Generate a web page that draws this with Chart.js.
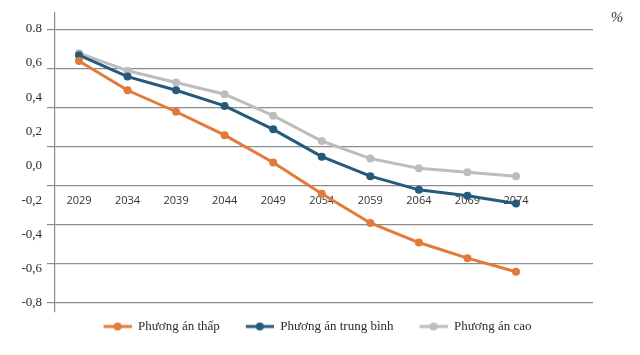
<!DOCTYPE html>
<html>
<head>
<meta charset="utf-8">
<script src="https://cdn.jsdelivr.net/npm/chart.js@4.4.1/dist/chart.umd.min.js"></script>
<style>
  html, body { margin: 0; padding: 0; background: #fff; }
  #wrap { width: 640px; height: 355px; }
</style>
</head>
<body>
<div id="wrap"><canvas id="chart"></canvas></div>
<script>
// Năm dự báo
const years = [2029, 2034, 2039, 2044, 2049, 2054, 2059, 2064, 2069, 2074];

// Tốc độ tăng dân số (%)
const lowValues = [0.64, 0.49, 0.38, 0.26, 0.12, -0.04, -0.19, -0.29, -0.37, -0.44];
const midValues = [0.67, 0.56, 0.49, 0.41, 0.29, 0.15, 0.05, -0.02, -0.05, -0.09];
const highValues = [0.68, 0.59, 0.53, 0.47, 0.36, 0.23, 0.14, 0.09, 0.07, 0.05];

const seriesNames = ['Phương án thấp', 'Phương án trung bình', 'Phương án cao'];
const seriesColors = ['#e27a3a', '#245b7b', '#bdbdbd'];

// Nhãn trục tung (như trong hình gốc) và các đường lưới
const tickLabels = ['0.8', '0,6', '0,4', '0,2', '0,0', '-0,2', '-0,4', '-0,6', '-0,8'];
const gridValues = [0.8, 0.6, 0.4, 0.2, 0, -0.2, -0.4, -0.6];
const unitLabel = '%';

const tickValues = tickLabels.map(t => parseFloat(t.replace(',', '.')));

// Biểu tượng chú giải: đoạn thẳng + chấm tròn
function legendIcon(color) {
    const c = document.createElement('canvas');
    c.width = 46;
    c.height = 10;
    const g = c.getContext('2d');
    g.strokeStyle = color;
    g.lineWidth = 3;
    g.beginPath();
    g.moveTo(18, 5);
    g.lineTo(46, 5);
    g.stroke();
    g.fillStyle = color;
    g.beginPath();
    g.arc(32, 5, 4, 0, Math.PI * 2);
    g.fill();
    return c;
}
const legendIcons = seriesColors.map(legendIcon);

const unitPlugin = {
    id: 'unitLabel',
    afterDraw(chart) {
        const ctx = chart.ctx;
        ctx.save();
        ctx.font = 'italic 15px "Liberation Serif"';
        ctx.fillStyle = '#333';
        ctx.textAlign = 'center';
        ctx.textBaseline = 'middle';
        ctx.fillText(unitLabel, 617, 18);
        ctx.restore();
    }
};

function makeDataset(i, values) {
    return {
        label: seriesNames[i],
        data: values,
        yAxisID: 'y',
        borderColor: seriesColors[i],
        backgroundColor: seriesColors[i],
        pointBackgroundColor: seriesColors[i],
        pointBorderColor: seriesColors[i],
        borderWidth: 3,
        pointRadius: 4,
        pointBorderWidth: 0,
        tension: 0
    };
}

new Chart(document.getElementById('chart'), {
    type: 'line',
    data: {
        labels: years,
        datasets: [
            makeDataset(0, lowValues),
            makeDataset(1, midValues),
            makeDataset(2, highValues)
        ]
    },
    options: {
        responsive: true,
        maintainAspectRatio: false,
        animation: false,
        events: [],
        layout: { padding: { top: 12, left: 0, right: 23, bottom: 12 } },
        scales: {
            x: {
                type: 'linear',
                position: { y: 0 },
                min: 2026.53,
                max: 2081.93,
                afterBuildTicks: s => { s.ticks = years.map(v => ({ value: v })); },
                ticks: {
                    callback: v => String(v),
                    autoSkip: false,
                    maxRotation: 0,
                    padding: 8,
                    color: '#333',
                    font: { family: "'Open Sans', sans-serif", size: 11 }
                },
                grid: { display: false, drawTicks: false },
                border: { display: false }
            },
            y: {
                type: 'linear',
                position: 'left',
                weight: 0,
                min: -0.646,
                max: 0.887,
                afterBuildTicks: s => { s.ticks = gridValues.map(v => ({ value: v })); },
                afterFit: s => { s.width = 8; },
                ticks: { display: false },
                grid: { color: '#8c8c8c', lineWidth: 1.2, tickLength: 8 },
                border: { display: true, color: '#8c8c8c', width: 1.2 }
            },
            yl: {
                type: 'linear',
                position: 'left',
                weight: 1,
                min: -0.8526,
                max: 0.8934,
                afterBuildTicks: s => { s.ticks = tickValues.map(v => ({ value: v })); },
                afterFit: s => { s.width = 47; },
                ticks: {
                    callback: v => tickLabels[tickValues.findIndex(t => Math.abs(t - v) < 1e-9)],
                    padding: 5,
                    color: '#2b2b2b',
                    font: { family: "'Liberation Serif', serif", size: 13 }
                },
                grid: { display: false, drawTicks: false },
                border: { display: false }
            },
            yr: {
                type: 'linear',
                position: 'right',
                afterFit: s => { s.width = 24; },
                ticks: { display: false },
                grid: { display: false, drawTicks: false },
                border: { display: false }
            }
        },
        plugins: {
            legend: {
                position: 'bottom',
                labels: {
                    usePointStyle: true,
                    pointStyleWidth: 46,
                    padding: 8,
                    color: '#2b2b2b',
                    font: { family: "'Liberation Serif', serif", size: 13 },
                    generateLabels: chart => Chart.defaults.plugins.legend.labels.generateLabels(chart)
                        .map((item, i) => ({ ...item, pointStyle: legendIcons[i] }))
                }
            },
            tooltip: { enabled: false }
        }
    },
    plugins: [unitPlugin]
});
</script>
</body>
</html>
